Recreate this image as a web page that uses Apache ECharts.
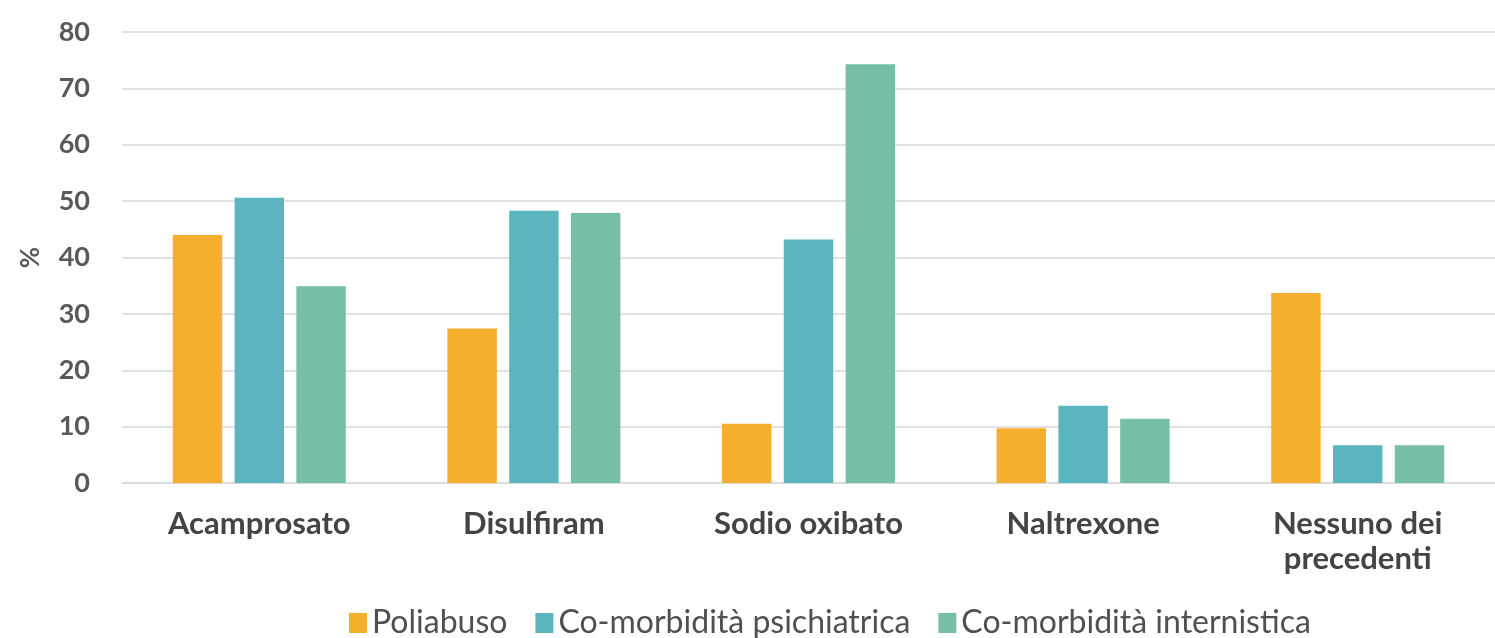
<!DOCTYPE html>
<html>
<head>
<meta charset="utf-8">
<script src="https://cdn.jsdelivr.net/npm/echarts@6/dist/echarts.min.js"></script>
<style>
html,body{margin:0;padding:0;background:#fff;}
#chart{width:1495px;height:638px;}
</style>
</head>
<body>
<div id="chart"></div>
<script>
const categories = ['Acamprosato', 'Disulfiram', 'Sodio oxibato', 'Naltrexone', 'Nessuno dei\nprecedenti'];
const poliabuso = [44, 27.4, 10.5, 9.7, 33.7];
const psichiatrica = [50.6, 48.3, 43.2, 13.7, 6.7];
const internistica = [34.9, 47.9, 74.3, 11.4, 6.7];
const seriesNames = ['Poliabuso', 'Co-morbidità psichiatrica', 'Co-morbidità internistica'];
const colors = ['#F6AE2D', '#5AB5BF', '#76BEA7'];

const font = 'Lato, "Open Sans", sans-serif';
const chart = echarts.init(document.getElementById('chart'), null, {renderer: 'canvas'});
const seriesData = [poliabuso, psichiatrica, internistica];
chart.setOption({
  animation: false,
  color: colors,
  grid: {left: 122, right: 0, top: 32, bottom: 155, containLabel: false},
  legend: {
    data: seriesNames,
    top: 602,
    left: 344,
    itemWidth: 18,
    itemHeight: 20,
    itemGap: 28,
    icon: 'rect',
    textStyle: {fontFamily: font, fontSize: 32, color: '#505050'}
  },
  xAxis: {
    type: 'category',
    data: categories,
    axisLine: {show: true, lineStyle: {color: '#d9d9d9', width: 1.5}},
    axisTick: {show: false},
    axisLabel: {fontFamily: font, fontSize: 31, fontWeight: 'bold', color: '#444444', margin: 23, lineHeight: 35, interval: 0}
  },
  yAxis: {
    type: 'value',
    min: 0, max: 80, interval: 10,
    name: '%',
    nameLocation: 'middle',
    nameGap: 78,
    nameRotate: 90,
    nameTextStyle: {fontFamily: font, fontSize: 26, fontWeight: 'bold', color: '#595959'},
    axisLine: {show: false},
    axisTick: {show: false},
    axisLabel: {fontFamily: font, fontSize: 27, fontWeight: 'bold', color: '#595959', margin: 32},
    splitLine: {lineStyle: {color: '#d9d9d9', width: 1.5}}
  },
  series: seriesData.map((d, i) => ({
    name: seriesNames[i],
    type: 'bar',
    data: d,
    barGap: '25%',
    barCategoryGap: '37%'
  }))
});
</script>
</body>
</html>
